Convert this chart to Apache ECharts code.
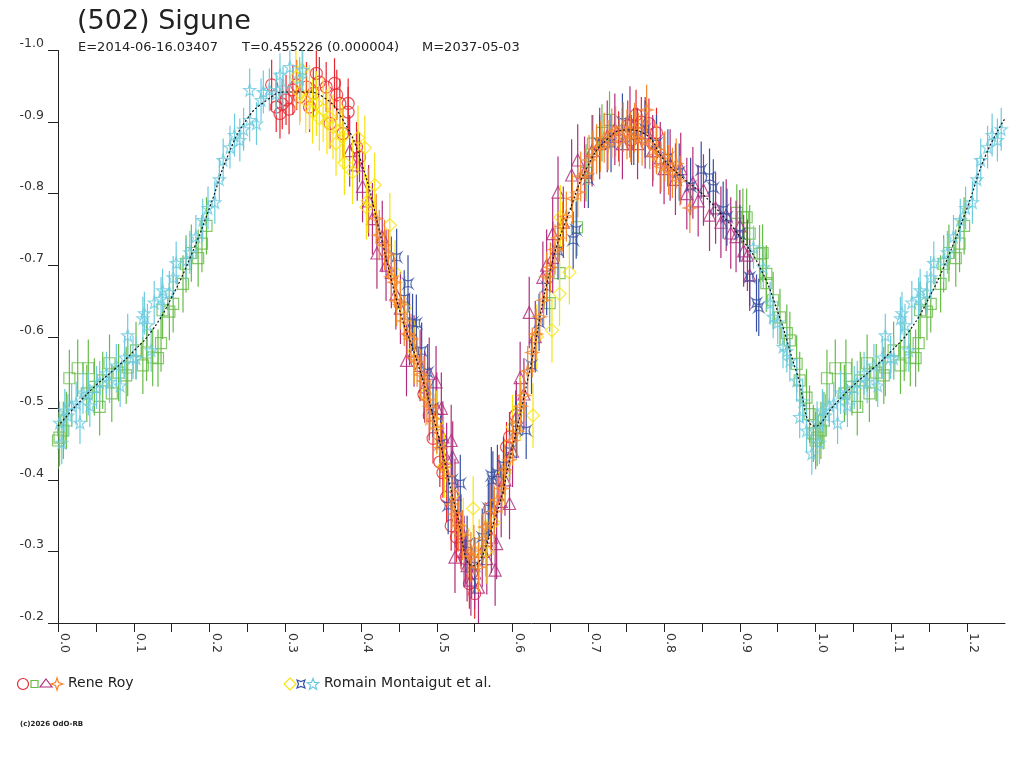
<!DOCTYPE html>
<html>
<head>
<meta charset="utf-8">
<script src="https://cdn.jsdelivr.net/npm/echarts@6/dist/echarts.min.js"></script>
<style>
  html, body { margin: 0; padding: 0; background: #fff; }
  #chart { width: 1024px; height: 768px; }
</style>
</head>
<body>
<div id="chart"></div>
<script>
// [phase, reduced mag]
const royRed = [
  [0.282,-0.952],[0.288,-0.921],[0.293,-0.912],[0.296,-0.925],[0.301,-0.931],[0.305,-0.918],[0.310,-0.945],
  [0.315,-0.952],[0.319,-0.935],[0.328,-0.949],[0.332,-0.921],[0.337,-0.940],[0.341,-0.968],[0.345,-0.956],
  [0.354,-0.949],[0.359,-0.898],[0.365,-0.954],[0.368,-0.938],[0.372,-0.926],[0.376,-0.884],[0.383,-0.926],
  [0.383,-0.914],[0.394,-0.865],[0.398,-0.851],
  [0.483,-0.520],[0.490,-0.490],[0.495,-0.458],[0.504,-0.425],[0.508,-0.410],[0.513,-0.376],[0.519,-0.336],
  [0.526,-0.320],[0.532,-0.310],[0.538,-0.290],[0.543,-0.255],[0.546,-0.270],[0.550,-0.241],
  [0.565,-0.300],[0.570,-0.360],[0.582,-0.400],[0.592,-0.446],[0.596,-0.460],[0.604,-0.490],
  [0.740,-0.880],[0.752,-0.895],[0.757,-0.875],[0.763,-0.910],[0.770,-0.900],[0.780,-0.898],[0.785,-0.870],[0.790,-0.885]
];
const royGreen = [
  [0.000,-0.455],[0.002,-0.459],[0.007,-0.469],[0.011,-0.483],[0.015,-0.542],[0.026,-0.556],[0.038,-0.521],
  [0.040,-0.556],[0.048,-0.530],[0.055,-0.502],[0.059,-0.539],[0.068,-0.563],[0.071,-0.521],[0.080,-0.550],
  [0.090,-0.546],[0.092,-0.557],[0.103,-0.581],[0.112,-0.560],[0.117,-0.578],[0.125,-0.571],[0.132,-0.570],
  [0.136,-0.591],[0.138,-0.637],[0.147,-0.635],[0.152,-0.646],[0.165,-0.674],[0.169,-0.702],[0.176,-0.717],
  [0.185,-0.710],[0.190,-0.730],[0.196,-0.755],
  [0.649,-0.647],[0.662,-0.689],[0.685,-0.753],[0.697,-0.829],[0.706,-0.870],[0.718,-0.885],[0.728,-0.903],
  [0.896,-0.773],[0.904,-0.767],[0.909,-0.767],[0.913,-0.744],[0.926,-0.716],[0.930,-0.717],[0.935,-0.688],
  [0.935,-0.675],[0.944,-0.651],[0.953,-0.627],[0.962,-0.605],[0.966,-0.595],[0.975,-0.562],[0.979,-0.539],
  [0.988,-0.515],[0.992,-0.492],[0.997,-0.465]
];
const royPurple = [
  [0.385,-0.860],[0.395,-0.840],[0.402,-0.810],[0.410,-0.790],[0.415,-0.765],[0.421,-0.717],[0.428,-0.740],
  [0.433,-0.700],[0.440,-0.690],[0.446,-0.660],[0.452,-0.640],[0.460,-0.567],[0.464,-0.610],[0.470,-0.580],
  [0.478,-0.560],[0.484,-0.530],[0.490,-0.549],[0.499,-0.537],[0.500,-0.500],[0.506,-0.500],[0.508,-0.460],
  [0.513,-0.430],[0.519,-0.455],[0.521,-0.432],[0.524,-0.380],[0.528,-0.350],[0.532,-0.330],[0.524,-0.292],
  [0.536,-0.300],[0.540,-0.280],[0.545,-0.260],[0.550,-0.270],[0.555,-0.250],
  [0.560,-0.300],[0.566,-0.290],[0.572,-0.320],[0.577,-0.274],[0.579,-0.311],[0.585,-0.370],[0.590,-0.400],
  [0.596,-0.367],[0.600,-0.440],[0.605,-0.488],[0.610,-0.543],[0.615,-0.520],[0.622,-0.634],[0.630,-0.600],
  [0.640,-0.683],[0.645,-0.700],[0.653,-0.711],[0.653,-0.744],[0.660,-0.802],[0.667,-0.760],[0.678,-0.826],
  [0.686,-0.847],[0.695,-0.830],[0.705,-0.860],[0.715,-0.870],[0.725,-0.880],[0.735,-0.890],[0.745,-0.870],
  [0.755,-0.900],[0.765,-0.870],[0.775,-0.885],
  [0.785,-0.860],[0.795,-0.850],[0.800,-0.835],[0.808,-0.840],[0.815,-0.820],[0.822,-0.835],[0.830,-0.800],
  [0.838,-0.815],[0.845,-0.790],[0.852,-0.805],[0.860,-0.770],[0.868,-0.780],[0.875,-0.760],[0.882,-0.770],
  [0.888,-0.745],[0.895,-0.740],[0.900,-0.755],[0.905,-0.720],[0.910,-0.714],[0.913,-0.686]
];
const royOrange = [
  [0.420,-0.765],[0.424,-0.742],[0.431,-0.728],[0.436,-0.715],[0.440,-0.684],[0.444,-0.676],[0.447,-0.650],
  [0.452,-0.645],[0.457,-0.622],[0.461,-0.604],[0.466,-0.597],[0.470,-0.570],[0.474,-0.565],[0.479,-0.547],
  [0.483,-0.538],[0.487,-0.512],[0.491,-0.503],[0.496,-0.485],[0.500,-0.472],[0.505,-0.445],[0.509,-0.418],
  [0.514,-0.405],[0.520,-0.366],[0.524,-0.352],[0.529,-0.336],[0.534,-0.323],[0.541,-0.296],[0.545,-0.292],
  [0.549,-0.302],[0.555,-0.278],
  [0.561,-0.318],[0.564,-0.334],[0.571,-0.338],[0.576,-0.356],[0.580,-0.372],[0.586,-0.388],[0.590,-0.414],
  [0.596,-0.428],[0.600,-0.455],[0.606,-0.468],[0.611,-0.503],[0.615,-0.518],[0.620,-0.552],[0.626,-0.578],
  [0.631,-0.604],[0.636,-0.628],[0.641,-0.651],[0.645,-0.684],[0.650,-0.697],[0.656,-0.722],[0.660,-0.738],
  [0.666,-0.754],[0.671,-0.768],[0.679,-0.793],[0.686,-0.802],[0.690,-0.824],[0.696,-0.828],[0.701,-0.847],
  [0.706,-0.853],[0.711,-0.862],[0.716,-0.866],[0.721,-0.878],[0.726,-0.868],[0.731,-0.884],[0.736,-0.887],
  [0.741,-0.873],[0.746,-0.893],[0.751,-0.883],[0.756,-0.879],[0.761,-0.892],[0.766,-0.878],[0.771,-0.874],
  [0.777,-0.917],[0.781,-0.869],[0.786,-0.853],[0.790,-0.862],[0.796,-0.838],[0.801,-0.852],[0.806,-0.833],
  [0.811,-0.829],[0.816,-0.842],[0.821,-0.818],[0.834,-0.780]
];
const montYellow = [
  [0.314,-0.963],[0.319,-0.941],[0.322,-0.973],[0.327,-0.930],[0.332,-0.935],[0.336,-0.915],[0.341,-0.926],
  [0.345,-0.905],[0.350,-0.917],[0.355,-0.900],[0.358,-0.907],[0.363,-0.893],[0.367,-0.870],[0.372,-0.889],
  [0.376,-0.879],[0.378,-0.843],[0.389,-0.830],[0.396,-0.878],[0.405,-0.864],[0.407,-0.781],[0.409,-0.790],
  [0.418,-0.812],[0.438,-0.756],[0.445,-0.690],[0.458,-0.640],[0.470,-0.580],[0.485,-0.520],[0.500,-0.480],
  [0.510,-0.420],[0.522,-0.380],[0.535,-0.330],[0.548,-0.360],[0.556,-0.300],[0.565,-0.300],[0.575,-0.340],
  [0.590,-0.410],[0.600,-0.474],[0.610,-0.500],[0.627,-0.490],[0.632,-0.600],[0.652,-0.609],[0.662,-0.660],
  [0.663,-0.767],[0.675,-0.690]
];
const montBlue = [
  [0.447,-0.711],[0.457,-0.653],[0.462,-0.674],[0.468,-0.620],[0.473,-0.619],[0.480,-0.580],[0.488,-0.550],
  [0.495,-0.500],[0.505,-0.450],[0.515,-0.364],[0.520,-0.400],[0.531,-0.395],[0.540,-0.310],[0.550,-0.280],
  [0.560,-0.320],[0.568,-0.360],[0.572,-0.406],[0.574,-0.400],[0.580,-0.409],[0.588,-0.420],[0.596,-0.440],
  [0.605,-0.470],[0.618,-0.469],[0.625,-0.560],[0.635,-0.620],[0.645,-0.670],[0.660,-0.720],[0.680,-0.735],
  [0.684,-0.749],[0.700,-0.820],[0.715,-0.870],[0.730,-0.870],[0.745,-0.900],[0.760,-0.880],[0.775,-0.890],
  [0.790,-0.870],[0.805,-0.850],[0.820,-0.830],[0.835,-0.810],[0.849,-0.833],[0.860,-0.823],[0.865,-0.808],
  [0.878,-0.777],[0.883,-0.767],[0.900,-0.744],[0.913,-0.683],[0.922,-0.647],[0.925,-0.641]
];
const montCyan = [
  [0.002,-0.480],[0.005,-0.452],[0.009,-0.497],[0.013,-0.490],[0.018,-0.504],[0.024,-0.507],[0.029,-0.480],
  [0.033,-0.522],[0.040,-0.520],[0.042,-0.504],[0.051,-0.529],[0.055,-0.536],[0.064,-0.549],[0.068,-0.537],
  [0.077,-0.560],[0.082,-0.532],[0.088,-0.571],[0.092,-0.602],[0.099,-0.571],[0.103,-0.570],[0.112,-0.626],
  [0.114,-0.633],[0.118,-0.616],[0.123,-0.581],[0.127,-0.648],[0.136,-0.653],[0.138,-0.665],[0.147,-0.662],
  [0.152,-0.683],[0.156,-0.703],[0.169,-0.707],[0.174,-0.718],[0.182,-0.740],[0.191,-0.763],[0.198,-0.780],
  [0.207,-0.788],[0.213,-0.820],[0.218,-0.847],[0.227,-0.865],[0.233,-0.882],[0.240,-0.875],[0.245,-0.890],
  [0.253,-0.903],[0.253,-0.945],[0.262,-0.898],[0.268,-0.931],[0.271,-0.942],[0.279,-0.945],[0.288,-0.940],
  [0.293,-0.966],[0.297,-0.948],[0.306,-0.977],[0.319,-0.961],[0.323,-0.973],
  [0.918,-0.725],[0.931,-0.697],[0.940,-0.647],[0.944,-0.628],[0.950,-0.620],[0.957,-0.586],[0.962,-0.580],
  [0.966,-0.567],[0.975,-0.539],[0.979,-0.488],[0.983,-0.510],[0.988,-0.469],[0.995,-0.437]
];
// fitted light curve
const fitCurve = [
  [0.000,-0.475],[0.025,-0.505],[0.050,-0.532],[0.075,-0.555],[0.100,-0.580],[0.125,-0.610],[0.150,-0.655],
  [0.175,-0.712],[0.200,-0.780],[0.225,-0.855],[0.250,-0.905],[0.275,-0.930],[0.300,-0.942],[0.325,-0.942],
  [0.350,-0.935],[0.375,-0.905],[0.400,-0.845],[0.425,-0.745],[0.450,-0.640],[0.475,-0.562],[0.500,-0.470],
  [0.525,-0.360],[0.548,-0.280],[0.575,-0.340],[0.600,-0.446],[0.625,-0.565],[0.650,-0.695],[0.675,-0.775],
  [0.700,-0.840],[0.725,-0.876],[0.750,-0.889],[0.775,-0.883],[0.800,-0.847],[0.825,-0.822],[0.850,-0.800],
  [0.875,-0.772],[0.900,-0.740],[0.925,-0.700],[0.950,-0.635],[0.975,-0.550],[1.000,-0.475]
];
const errRed = 0.035, errGreen = 0.04, errPurple = 0.05, errOrange = 0.035;
const errYellow = 0.045, errBlue = 0.04, errCyan = 0.03;

const subtitleParts = ['E=2014-06-16.03407', 'T=0.455226 (0.000004)', 'M=2037-05-03'];

// phases below 0.25 are shown again after 1.0
function wrap(arr) {
  const extra = arr.filter(d => d[0] <= 0.25).map(d => [d[0] + 1, d[1]]);
  return arr.concat(extra);
}

const FONT = 'DejaVu Sans, Verdana, sans-serif';
const star4 = 'path://M0,-7L1.6,-1.6L7,0L1.6,1.6L0,7L-1.6,1.6L-7,0L-1.6,-1.6Z';
const star5 = 'path://M0,-10L2.35,-3.24L9.51,-3.09L3.8,1.24L5.88,8.09L0,4L-5.88,8.09L-3.8,1.24L-9.51,-3.09L-2.35,-3.24Z';
const quatre = 'path://M-5,-5Q0,-1.5 5,-5Q1.5,0 5,5Q0,1.5 -5,5Q-1.5,0 -5,-5Z';

const sets = [
  { name: 'red', data: royRed, err: errRed, color: '#e8262e', symbol: 'circle', size: 12 },
  { name: 'green', data: royGreen, err: errGreen, color: '#67bb47', symbol: 'rect', size: 11 },
  { name: 'purple', data: royPurple, err: errPurple, color: '#b02c7c', symbol: 'triangle', size: 12 },
  { name: 'yellow', data: montYellow, err: errYellow, color: '#f7e40a', symbol: 'diamond', size: 13 },
  { name: 'blue', data: montBlue, err: errBlue, color: '#3550a3', symbol: quatre, size: 9 },
  { name: 'orange', data: royOrange, err: errOrange, color: '#f5862a', symbol: star4, size: 13 },
  { name: 'cyan', data: montCyan, err: errCyan, color: '#6ccbdf', symbol: star5, size: 12 }
];

const series = [];
sets.forEach((s, i) => {
  const pts = wrap(s.data);
  series.push({
    type: 'custom',
    name: s.name + '-err',
    data: pts,
    z: 2 + i * 2,
    clip: true,
    renderItem: function (params, api) {
      const x = api.value(0), y = api.value(1);
      const a = api.coord([x, y - s.err]);
      const b = api.coord([x, y + s.err]);
      return {
        type: 'line',
        shape: { x1: a[0], y1: a[1], x2: b[0], y2: b[1] },
        style: { stroke: s.color, lineWidth: 1.2 }
      };
    }
  });
  series.push({
    type: 'scatter',
    name: s.name,
    data: pts,
    z: 3 + i * 2,
    symbol: s.symbol,
    symbolSize: s.size,
    itemStyle: { color: 'transparent', borderColor: s.color, borderWidth: 1.2 },
    emphasis: { disabled: true }
  });
});
series.push({
  type: 'line',
  name: 'fit',
  data: wrap(fitCurve.slice(0, -1)),
  showSymbol: false,
  smooth: true,
  z: 30,
  lineStyle: { color: '#111', width: 1.2, type: [2, 2] }
});

function star5Points(cx, cy, r) {
  const p = [];
  for (let k = 0; k < 10; k++) {
    const rr = k % 2 === 0 ? r : r * 0.42;
    const a = -Math.PI / 2 + k * Math.PI / 5;
    p.push([cx + rr * Math.cos(a), cy + rr * Math.sin(a)]);
  }
  return p;
}

const legendY = 684;
const graphic = [
  { type: 'circle', shape: { cx: 23, cy: legendY, r: 5.5 }, style: { fill: 'none', stroke: '#e8262e', lineWidth: 1.2 } },
  { type: 'rect', shape: { x: 31, y: legendY - 3.5, width: 7, height: 7 }, style: { fill: 'none', stroke: '#67bb47', lineWidth: 1.2 } },
  { type: 'polygon', shape: { points: [[46, legendY - 5], [52, legendY + 3], [40, legendY + 3]] }, style: { fill: 'none', stroke: '#b02c7c', lineWidth: 1.2 } },
  { type: 'polygon', shape: { points: [[57, legendY - 6], [58.5, legendY - 1.5], [63, legendY], [58.5, legendY + 1.5], [57, legendY + 6], [55.5, legendY + 1.5], [51, legendY], [55.5, legendY - 1.5]] }, style: { fill: 'none', stroke: '#f5862a', lineWidth: 1.2 } },
  { type: 'text', left: 68, top: legendY - 8, style: { text: 'Rene Roy', font: '14px ' + FONT, fill: '#222' } },
  { type: 'polygon', shape: { points: [[290, legendY - 6], [296, legendY], [290, legendY + 6], [284, legendY]] }, style: { fill: 'none', stroke: '#f7e40a', lineWidth: 1.2 } },
  { type: 'polygon', shape: { points: [[297, legendY - 4], [301, legendY - 2.5], [305, legendY - 4], [303.5, legendY], [305, legendY + 4], [301, legendY + 2.5], [297, legendY + 4], [298.5, legendY]] }, style: { fill: 'none', stroke: '#3550a3', lineWidth: 1.2 } },
  { type: 'polygon', shape: { points: star5Points(313, legendY + 0.5, 6) }, style: { fill: 'none', stroke: '#6ccbdf', lineWidth: 1.2 } },
  { type: 'text', left: 324, top: legendY - 8, style: { text: 'Romain Montaigut et al.', font: '14px ' + FONT, fill: '#222' } },
  { type: 'text', left: 20, top: 721, style: { text: '(c)2026 OdO-RB', font: 'bold 7px ' + FONT, fill: '#222' } }
];

const titleStyle = { fontWeight: 'normal', color: '#222', fontFamily: FONT };
const chart = echarts.init(document.getElementById('chart'));
chart.setOption({
  animation: false,
  backgroundColor: '#fff',
  title: [
    { text: '(502) Sigune', left: 77, top: 8, padding: 0, textStyle: Object.assign({ fontSize: 27 }, titleStyle) },
    { text: subtitleParts[0], left: 78, top: 41, padding: 0, textStyle: Object.assign({ fontSize: 13 }, titleStyle) },
    { text: subtitleParts[1], left: 242, top: 41, padding: 0, textStyle: Object.assign({ fontSize: 13 }, titleStyle) },
    { text: subtitleParts[2], left: 422, top: 41, padding: 0, textStyle: Object.assign({ fontSize: 13 }, titleStyle) }
  ],
  grid: { left: 58, right: 19, top: 50.5, bottom: 145, containLabel: false },
  xAxis: {
    type: 'value',
    min: 0,
    max: 1.25,
    interval: 0.05,
    splitLine: { show: false },
    axisLine: { lineStyle: { color: '#222', width: 1 } },
    axisTick: { length: 9, lineStyle: { color: '#222' } },
    axisLabel: {
      rotate: -90,
      margin: 10,
      fontSize: 12.5,
      color: '#333',
      fontFamily: FONT,
      verticalAlign: 'bottom',
      showMaxLabel: false,
      formatter: function (v) {
        const k = Math.round(v * 20);
        return k % 2 === 0 ? (k / 20).toFixed(1) : '';
      }
    }
  },
  yAxis: {
    type: 'value',
    inverse: true,
    min: -1.0,
    max: -0.2,
    interval: 0.1,
    splitLine: { show: false },
    axisLine: { show: true, lineStyle: { color: '#222', width: 1 } },
    axisTick: { length: 10, lineStyle: { color: '#222' } },
    axisLabel: {
      margin: 14,
      fontSize: 12.5,
      color: '#333',
      fontFamily: FONT,
      verticalAlign: 'bottom',
      formatter: v => v.toFixed(1)
    }
  },
  series: series,
  graphic: graphic
});
</script>
</body>
</html>
